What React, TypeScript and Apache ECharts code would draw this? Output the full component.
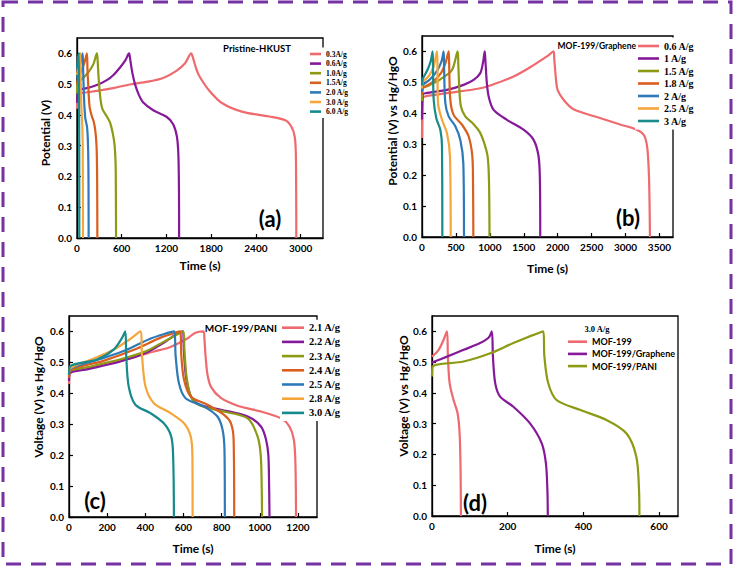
import React, { useEffect, useRef } from "react";
import * as echarts from "echarts";

// ---------- Panel (a): Pristine-HKUST ----------
const namesA = ["0.3A/g", "0.6A/g", "1.0A/g", "1.5A/g", "2.0 A/g", "3.0 A/g", "6.0 A/g"];
const a03 = [[0,0.42],[15,0.462],[50,0.47],[270,0.478],[500,0.488],[711,0.499],[950,0.508],[1156,0.52],[1333,0.543],[1450,0.568],[1533,0.6],[1550,0.59],[1600,0.55],[1644,0.525],[1778,0.478],[1955,0.437],[2222,0.41],[2578,0.395],[2800,0.382],[2880,0.36],[2920,0.33],[2935,0.28],[2940,0.15],[2942,0]];
const a06 = [[0,0.44],[15,0.478],[44,0.482],[150,0.488],[267,0.497],[400,0.513],[489,0.53],[580,0.555],[650,0.578],[698,0.6],[711,0.585],[740,0.54],[778,0.5],[830,0.465],[889,0.44],[1022,0.415],[1200,0.394],[1290,0.37],[1340,0.33],[1360,0.27],[1368,0.15],[1370,0]];
const a10 = [[0,0.47],[10,0.508],[60,0.515],[156,0.54],[220,0.565],[267,0.6],[276,0.58],[290,0.52],[311,0.46],[340,0.42],[400,0.395],[444,0.375],[480,0.34],[505,0.3],[518,0.24],[522,0.12],[524,0]];
const a15 = [[0,0.5],[20,0.52],[60,0.545],[100,0.57],[133,0.6],[140,0.55],[150,0.5],[169,0.426],[200,0.395],[222,0.38],[245,0.35],[262,0.3],[270,0.2],[273,0]];
const a20 = [[0,0.52],[30,0.55],[60,0.58],[76,0.6],[82,0.55],[95,0.45],[111,0.39],[135,0.36],[148,0.3],[154,0.2],[156,0]];
const a30 = [[0,0.53],[20,0.56],[44,0.6],[50,0.5],[60,0.42],[70,0.37],[77,0.3],[80,0]];
const a60 = [[0,0.55],[12,0.58],[22,0.6],[25,0.5],[28,0.4],[30,0.3],[31,0]];

// ---------- Panel (b): MOF-199/Graphene ----------
const namesB = ["0.6 A/g", "1 A/g", "1.5 A/g", "1.8 A/g", "2 A/g", "2.5 A/g", "3 A/g"];
const b06 = [[0,0.32],[5,0.4],[15,0.45],[100,0.457],[368,0.465],[859,0.481],[1105,0.498],[1350,0.519],[1595,0.549],[1841,0.584],[1940,0.6],[1950,0.575],[1975,0.51],[2000,0.475],[2086,0.444],[2234,0.413],[2577,0.388],[2921,0.364],[3166,0.347],[3270,0.33],[3320,0.29],[3345,0.2],[3355,0.1],[3360,0]];
const b1 = [[0,0.38],[10,0.46],[50,0.465],[368,0.476],[614,0.492],[761,0.508],[859,0.53],[900,0.565],[925,0.6],[935,0.57],[955,0.5],[983,0.454],[1056,0.411],[1252,0.379],[1497,0.347],[1645,0.314],[1718,0.261],[1738,0.185],[1743,0]];
const b15 = [[0,0.44],[10,0.48],[100,0.49],[270,0.51],[442,0.54],[525,0.6],[535,0.56],[550,0.48],[574,0.422],[638,0.39],[761,0.365],[850,0.34],[908,0.31],[967,0.261],[987,0.185],[995,0]];
const b18 = [[0,0.46],[10,0.48],[150,0.5],[280,0.53],[350,0.565],[393,0.6],[400,0.56],[417,0.444],[466,0.395],[590,0.363],[688,0.325],[742,0.261],[752,0.18],[757,0]];
const b2 = [[0,0.47],[10,0.49],[120,0.51],[230,0.54],[290,0.57],[319,0.6],[325,0.55],[344,0.433],[393,0.39],[491,0.358],[565,0.314],[609,0.239],[619,0]];
const b25 = [[0,0.48],[10,0.5],[100,0.52],[170,0.55],[221,0.6],[228,0.55],[236,0.433],[295,0.379],[368,0.336],[412,0.261],[423,0]];
const b3 = [[0,0.49],[10,0.51],[80,0.54],[130,0.57],[157,0.6],[162,0.55],[172,0.444],[211,0.384],[270,0.347],[295,0.293],[300,0]];

// ---------- Panel (c): MOF-199/PANI ----------
const namesC = ["2.1 A/g", "2.2 A/g", "2.3 A/g", "2.4 A/g", "2.5 A/g", "2.8 A/g", "3.0 A/g"];
const c21 = [[0,0.43],[5,0.468],[100,0.483],[269,0.505],[350,0.518],[445,0.535],[532,0.55],[620,0.577],[660,0.595],[705,0.6],[710,0.575],[716,0.52],[726,0.46],[745,0.42],[796,0.385],[884,0.36],[1007,0.341],[1112,0.319],[1156,0.292],[1179,0.249],[1187,0.17],[1190,0]];
const c22 = [[0,0.44],[5,0.465],[100,0.478],[269,0.503],[400,0.53],[500,0.565],[560,0.59],[597,0.6],[602,0.54],[614,0.45],[640,0.39],[690,0.362],[796,0.347],[937,0.325],[1007,0.292],[1033,0.25],[1045,0.2],[1049,0.1],[1051,0]];
const c23 = [[0,0.45],[5,0.472],[100,0.485],[269,0.51],[400,0.535],[500,0.568],[600,0.6],[605,0.54],[617,0.45],[642,0.385],[690,0.36],[796,0.343],[937,0.319],[989,0.26],[1005,0.2],[1010,0.1],[1012,0]];
const c24 = [[0,0.45],[5,0.474],[181,0.505],[357,0.545],[480,0.58],[582,0.6],[589,0.52],[603,0.444],[638,0.39],[726,0.363],[813,0.33],[849,0.303],[863,0.249],[866,0]];
const c25 = [[0,0.46],[5,0.478],[160,0.51],[300,0.54],[420,0.575],[550,0.6],[559,0.52],[576,0.433],[611,0.384],[708,0.357],[778,0.325],[805,0.282],[815,0.217],[817,0]];
const c28 = [[0,0.46],[5,0.48],[120,0.51],[230,0.54],[320,0.575],[374,0.6],[383,0.52],[401,0.422],[445,0.368],[532,0.336],[603,0.303],[638,0.26],[647,0.195],[648,0]];
const c30 = [[0,0.46],[5,0.487],[146,0.509],[234,0.541],[278,0.579],[295,0.6],[300,0.52],[313,0.422],[348,0.363],[427,0.336],[497,0.303],[536,0.26],[546,0.195],[550,0]];

// ---------- Panel (d): 3.0 A/g comparison ----------
const namesD = ["MOF-199", "MOF-199/Graphene", "MOF-199/PANI"];
const dMof = [[0,0.518],[17.6,0.54],[30.7,0.573],[39.5,0.6],[42,0.518],[46.6,0.432],[57,0.377],[67.6,0.334],[73,0.268],[75.5,0.15],[76.4,0]];
const dGr = [[0,0.499],[39.5,0.518],[83.5,0.54],[127,0.562],[150,0.58],[158,0.6],[161,0.518],[167,0.432],[180,0.388],[215,0.355],[259,0.301],[290,0.236],[301,0.171],[305,0.08],[306,0]];
const dPani = [[0,0.453],[2,0.486],[83.5,0.502],[154,0.529],[215,0.562],[294,0.6],[297,0.518],[307,0.432],[329,0.377],[391,0.345],[461,0.312],[514,0.268],[540,0.192],[547,0.084],[548,0]];

const yTicks = ["0.0", "0.1", "0.2", "0.3", "0.4", "0.5", "0.6"];

const RED = "#EE6A6E", PUR = "#86189A", OLV = "#8C9A14", ORG = "#D95F1E", BLU = "#2E79B8", AMB = "#F4A63A", TEA = "#168A8C";
const colors7 = [RED, PUR, OLV, ORG, BLU, AMB, TEA];
const colors3 = [RED, PUR, OLV];

const SANS = "Lato";
const SERIF = "Liberation Serif";

function xAx(i: number, max: number, interval: number, nameGap: number) {
  return {
    type: "value", gridIndex: i, min: 0, max, interval,
    name: "Time (s)", nameLocation: "middle", nameGap,
    nameTextStyle: { fontFamily: SANS, fontWeight: "bold", fontSize: 12, color: "#000" },
    axisLine: { show: true, onZero: false, lineStyle: { color: "#000", width: 1.3 } },
    axisTick: { show: true, inside: true, length: 4, lineStyle: { color: "#000", width: 1.2 } },
    axisLabel: { color: "#000", fontFamily: SANS, fontWeight: "bold", fontSize: 10, margin: 5, showMaxLabel: false, formatter: (v: number) => String(v) },
    splitLine: { show: false },
  };
}
function yAx(i: number) {
  return {
    type: "value", gridIndex: i, min: 0, max: 0.65, interval: 0.1,
    axisLine: { show: true, onZero: false, lineStyle: { color: "#000", width: 1.3 } },
    axisTick: { show: true, inside: true, length: 4, lineStyle: { color: "#000", width: 1.2 } },
    axisLabel: { color: "#000", fontFamily: SANS, fontWeight: "bold", fontSize: 10, margin: 5, showMaxLabel: false,
      formatter: (v: number) => yTicks[Math.round(v * 10)] ?? v.toFixed(1) },
    splitLine: { show: false },
  };
}
function mk(name: string, data: number[][], color: string, gi: number) {
  return {
    type: "line", name, data, xAxisIndex: gi, yAxisIndex: gi,
    showSymbol: false, symbol: "none", smooth: 0.3, silent: true,
    lineStyle: { color, width: 2.2 }, itemStyle: { color },
  };
}
function legend(names: string[], cols: string[], o: any) {
  return {
    orient: "vertical", icon: "rect", selectedMode: false,
    left: o.left, top: o.top, padding: o.padding, itemWidth: o.itemWidth, itemHeight: 2.6, itemGap: o.itemGap,
    backgroundColor: o.bg ? "#fff" : "transparent",
    textStyle: { fontFamily: o.font, fontWeight: "bold", fontSize: o.fontSize, lineHeight: o.lineHeight, color: "#000" },
    data: names.map((n, k) => ({ name: n, itemStyle: { color: cols[k], borderWidth: 0 } })),
  };
}
function txt(text: string, x: number, y: number, font: string, align = "center", rot = 0) {
  return {
    type: "text", x, y, rotation: rot, silent: true, z: 10,
    style: { text, font, fill: "#000", align, verticalAlign: "middle", textAlign: align, textVerticalAlign: "middle" },
  };
}

export default function App() {
  const ref = useRef<HTMLDivElement>(null);
  useEffect(() => {
    if (!ref.current) return;
    const chart = echarts.init(ref.current, null, { renderer: "svg" });
    const dataA = [a03, a06, a10, a15, a20, a30, a60];
    const dataB = [b06, b1, b15, b18, b2, b25, b3];
    const dataC = [c21, c22, c23, c24, c25, c28, c30];
    const dataD = [dMof, dGr, dPani];
    const series: any[] = [];
    dataA.forEach((d, k) => series.push(mk(namesA[k], d, colors7[k], 0)));
    dataB.forEach((d, k) => series.push(mk(namesB[k], d, colors7[k], 1)));
    dataC.forEach((d, k) => series.push(mk(namesC[k], d, colors7[k], 2)));
    dataD.forEach((d, k) => series.push(mk(namesD[k], d, colors3[k], 3)));
    const gridStyle = { show: true, borderColor: "#000", borderWidth: 1.3, backgroundColor: "transparent" };
    chart.setOption({
      animation: false,
      backgroundColor: "#fff",
      grid: [
        { left: 77, top: 38, width: 246, height: 200, ...gridStyle },
        { left: 422, top: 36, width: 251, height: 201, ...gridStyle },
        { left: 69, top: 316, width: 248, height: 201, ...gridStyle },
        { left: 432, top: 316, width: 246, height: 200, ...gridStyle },
      ],
      xAxis: [xAx(0, 3300, 600, 21), xAx(1, 3700, 500, 25), xAx(2, 1300, 200, 25), xAx(3, 650, 200, 26)],
      yAxis: [yAx(0), yAx(1), yAx(2), yAx(3)],
      legend: [
        legend(namesA, colors7, { left: 308, top: 47.5, padding: 2, itemWidth: 11, itemGap: 0.6, font: SERIF, fontSize: 7.5, lineHeight: 9, bg: true }),
        legend(namesB, colors7, { left: 635, top: 37.5, padding: 3, itemWidth: 21, itemGap: 1.5, font: SERIF, fontSize: 10, lineHeight: 11, bg: true }),
        legend(namesC, colors7, { left: 280, top: 319.7, padding: 2, itemWidth: 22, itemGap: 2.2, font: SERIF, fontSize: 10.5, lineHeight: 12, bg: true }),
        legend(namesD, colors3, { left: 566, top: 334.7, padding: 2, itemWidth: 19, itemGap: 2.2, font: SANS, fontSize: 9, lineHeight: 10, bg: false }),
      ],
      graphic: [
        { type: "rect", silent: true, z: 20, shape: { x: 3, y: 2, width: 728, height: 562 },
          style: { fill: "none", stroke: "#7432A3", lineWidth: 3, lineDash: [15, 10] } },
        txt("Pristine-HKUST", 257, 48, `bold 9.5px ${SANS}`),
        txt("MOF-199/Graphene", 636, 46, `bold 8.5px ${SANS}`, "right"),
        txt("MOF-199/PANI", 277, 328, `bold 10px ${SANS}`, "right"),
        txt("3.0 A/g", 597, 329, `bold 8.5px ${SERIF}`),
        txt("(a)", 270, 218, `bold 22px ${SANS}`),
        txt("(b)", 628, 217, `bold 22px ${SANS}`),
        txt("(c)", 95, 500, `bold 22px ${SANS}`),
        txt("(d)", 475, 502, `bold 22px ${SANS}`),
        txt("Potential (V)", 45, 133, `bold 12px ${SANS}`, "center", Math.PI / 2),
        txt("Potential (V) vs Hg/HgO", 392, 121, `bold 12px ${SANS}`, "center", Math.PI / 2),
        txt("Voltage (V) vs Hg/HgO", 38, 397, `bold 12px ${SANS}`, "center", Math.PI / 2),
        txt("Voltage (V) vs Hg/HgO", 403, 396, `bold 12px ${SANS}`, "center", Math.PI / 2),
      ],
      series,
    });
    return () => chart.dispose();
  }, []);
  return <div ref={ref} style={{ position: "absolute", left: 0, top: 0, width: 734, height: 567 }} />;
}
